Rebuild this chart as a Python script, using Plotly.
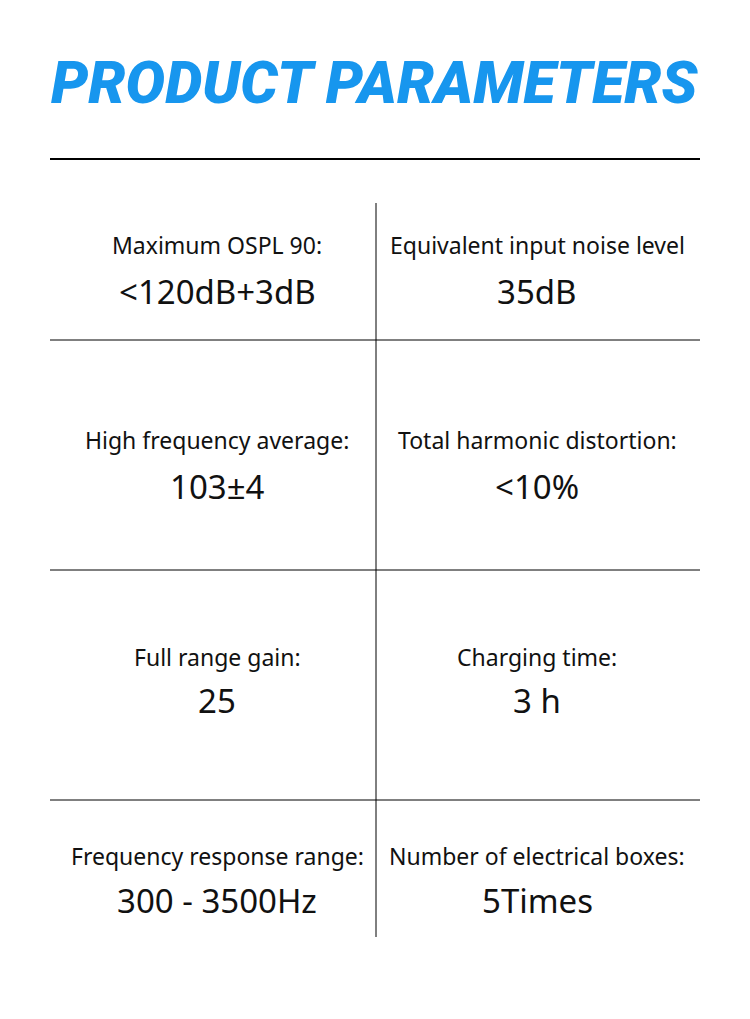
import plotly.graph_objects as go

W, H = 750, 1019
OFF = 8  # page body margin offset

title = "PRODUCT PARAMETERS"
param_labels = [
    "Maximum OSPL 90:", "Equivalent input noise level",
    "High frequency average:", "Total harmonic distortion:",
    "Full range gain:", "Charging time:",
    "Frequency response range:", "Number of electrical boxes:",
]
param_values = [
    "<120dB+3dB", "35dB",
    "103\u00b14", "<10%",
    "25", "3 h",
    "300 - 3500Hz", "5Times",
]

# row text positions (pixels from top) and column centres
label_y = [245, 440, 657, 856]
value_y = [291, 486, 700, 900]
col_x = [217, 537]
row_lines = [340, 570, 800]

fig = go.Figure()
fig.add_trace(go.Scatter(x=[0, W], y=[0, H], mode="markers",
                         marker=dict(opacity=0), hoverinfo="skip"))

fig.add_annotation(x=W / 2, y=82, text=title, showarrow=False,
                   font=dict(family="Roboto", size=59, color="#1796ee",
                             weight=900, style="italic"))

shapes = [dict(type="line", x0=50, x1=700, y0=159, y1=159,
               line=dict(color="black", width=2))]
shapes.append(dict(type="line", x0=376, x1=376, y0=203, y1=937,
                   line=dict(color="black", width=1)))
for y in row_lines:
    shapes.append(dict(type="line", x0=50, x1=700, y0=y, y1=y,
                       line=dict(color="black", width=1)))

for i, (lab, val) in enumerate(zip(param_labels, param_values)):
    r, c = divmod(i, 2)
    fig.add_annotation(x=col_x[c], y=label_y[r], text=lab, showarrow=False,
                       font=dict(family="Noto Sans", size=23, color="#111"))
    fig.add_annotation(x=col_x[c], y=value_y[r], text=val, showarrow=False,
                       font=dict(family="Noto Sans", size=33, color="#111"))

fig.update_layout(
    width=W, height=H, margin=dict(l=0, r=0, t=0, b=0),
    plot_bgcolor="white", paper_bgcolor="white", showlegend=False,
    shapes=shapes,
    xaxis=dict(range=[OFF, W + OFF], visible=False, fixedrange=True),
    yaxis=dict(range=[H + OFF, OFF], visible=False, fixedrange=True),
)

fig.write_html("out.html")
